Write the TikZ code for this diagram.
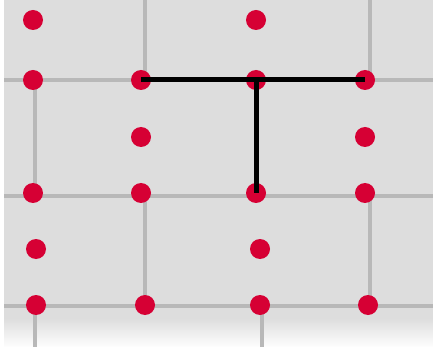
\documentclass[tikz,border=0pt]{standalone}
\usepackage{xcolor}
\usepackage{tikz}
\definecolor{dotred}{RGB}{214,0,52}
\definecolor{paper}{RGB}{221,221,221}
\definecolor{seam}{RGB}{184,184,184}

\begin{document}
\begin{tikzpicture}[x=1pt, y=-1pt,
  dot/.style={circle, fill=dotred, inner sep=0pt, minimum size=20pt},
  seamline/.style={seam, line width=3.5pt},
  bar/.style={black, line width=5pt}]
  \useasboundingbox (0,0) rectangle (433,347);
  \fill[white] (0,0) rectangle (433,347);
  \fill[paper] (4,0) rectangle (433,318);
  \shade[top color=paper, bottom color=white!96!paper] (4,318) rectangle (433,347);
  % seams of the tiles
  \draw[seamline] (4,80) -- (433,80);
  \draw[seamline] (4,196) -- (433,196);
  \draw[seamline] (4,306) -- (433,306);
  \draw[seamline] (145,0) -- (145,80);
  \draw[seamline] (370,0) -- (370,80);
  \draw[seamline] (35,80) -- (35,196);
  \draw[seamline] (145,196) -- (145,306);
  \draw[seamline] (370,196) -- (370,306);
  \draw[seamline] (35,306) -- (35,347);
  \draw[seamline] (262,306) -- (262,347);
  % dots
  \node[dot] (a1) at (33,20) {};
  \node[dot] (a3) at (256,20) {};
  \node[dot] (b1) at (33,80) {};
  \node[dot] (b2) at (141,80) {};
  \node[dot] (b3) at (256,80) {};
  \node[dot] (b4) at (365,80) {};
  \node[dot] (c2) at (141,137) {};
  \node[dot] (c4) at (365,137) {};
  \node[dot] (d1) at (33,193) {};
  \node[dot] (d2) at (141,193) {};
  \node[dot] (d3) at (256,193) {};
  \node[dot] (d4) at (365,193) {};
  \node[dot] (e1) at (36,249) {};
  \node[dot] (e3) at (260,249) {};
  \node[dot] (f1) at (36,305) {};
  \node[dot] (f2) at (145,305) {};
  \node[dot] (f3) at (260,305) {};
  \node[dot] (f4) at (368,305) {};
  % the T
  \draw[bar] (b2.center) -- (b4.center);
  \draw[bar] (b3.center) -- (d3.center);
\end{tikzpicture}
\end{document}
